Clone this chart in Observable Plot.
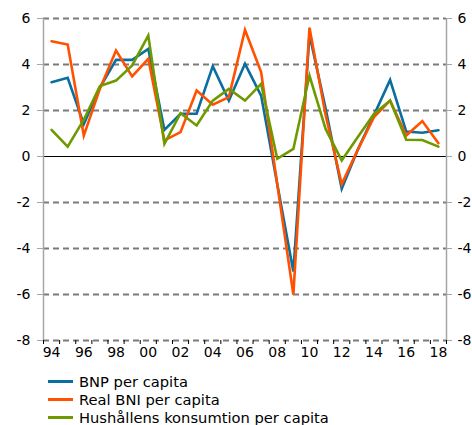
<!DOCTYPE html>
<html>
<head>
<meta charset="utf-8">
<script src="https://cdn.jsdelivr.net/npm/d3@7"></script>
<script src="https://cdn.jsdelivr.net/npm/@observablehq/plot@0.6"></script>
<style>
  html, body { margin: 0; padding: 0; background: #fff; }
  body { width: 472px; height: 425px; overflow: hidden; font-family: "DejaVu Sans", Verdana, sans-serif; }
  #legend { margin-left: 48px; margin-top: 7px; font-size: 14.7px; color: #000; }
  .item { display: flex; align-items: center; height: 18px; }
  .sw { width: 25px; height: 3px; margin-right: 6px; }
</style>
</head>
<body>
<div id="chart"></div>
<div id="legend"></div>
<script>
const years = [1994,1995,1996,1997,1998,1999,2000,2001,2002,2003,2004,2005,2006,2007,2008,2009,2010,2011,2012,2013,2014,2015,2016,2017,2018];
const bnp   = [3.23,3.42,1.4,3.0,4.2,4.2,4.68,1.16,1.86,1.86,3.93,2.43,4.03,2.65,-1.2,-5.0,5.3,2.1,-1.4,0.3,1.8,3.33,1.09,1.03,1.14];
const bni   = [5.01,4.87,0.91,2.95,4.61,3.48,4.25,0.7,1.06,2.87,2.25,2.58,5.5,3.67,-1.2,-6.0,5.6,1.8,-1.2,0.3,1.71,2.43,0.91,1.54,0.58];
const kons  = [1.16,0.43,1.6,3.06,3.3,3.96,5.26,0.55,1.88,1.35,2.43,2.94,2.43,3.16,-0.1,0.33,3.52,1.2,-0.17,0.85,1.85,2.43,0.73,0.72,0.43];
const seriesNames = ["BNP per capita", "Real BNI per capita", "Hushållens konsumtion per capita"];
const colors = ["#0a6e9e", "#ff5100", "#6e9a00"];
const yTicks = [-8,-6,-4,-2,0,2,4,6];
const xLabelYears = [1994,1996,1998,2000,2002,2004,2006,2008,2010,2012,2014,2016,2018];

const rows = [];
[bnp, bni, kons].forEach((arr, s) => arr.forEach((v, i) => rows.push({year: years[i], value: v, series: seriesNames[s]})));
const bounds = years.map(y => y - 0.5).concat([years[years.length - 1] + 0.5]);
const x0 = bounds[0], x1 = bounds[bounds.length - 1];

const chart = Plot.plot({
  width: 472,
  height: 365,
  marginLeft: 43,
  marginRight: 26,
  marginTop: 18,
  marginBottom: 25,
  style: {fontFamily: "DejaVu Sans, Verdana, sans-serif", fontSize: "14px", color: "#000", background: "#fff"},
  x: {domain: [x0, x1]},
  y: {domain: [-8, 6]},
  color: {domain: seriesNames, range: colors},
  marks: [
    Plot.gridY(yTicks.filter(d => d !== 0), {stroke: "#7a7a7a", strokeOpacity: 1, strokeWidth: 2, strokeDasharray: "6,4"}),
    Plot.ruleY([0], {stroke: "#000", strokeWidth: 1}),
    Plot.ruleX([x0, x1], {y1: -8, y2: 6, stroke: "#a6a6a6", strokeWidth: 1.5}),
    Plot.axisY(yTicks, {anchor: "left", tickSize: 6, tickPadding: 7, stroke: "#a6a6a6", label: null, tickFormat: d => String(d)}),
    Plot.axisY(yTicks, {anchor: "right", tickSize: 5, tickPadding: 6, stroke: "#a6a6a6", label: null, tickFormat: d => String(d)}),
    Plot.axisX(bounds, {anchor: "bottom", tickSize: 4, text: null, stroke: "#000", label: null}),
    Plot.axisX(xLabelYears, {anchor: "bottom", tickSize: 0, tickPadding: 7, label: null, tickFormat: d => String(d % 100).padStart(2, "0")}),
    Plot.lineY(rows, {x: "year", y: "value", z: "series", stroke: "series", strokeWidth: 2.6, strokeLinejoin: "miter", strokeMiterlimit: 4})
  ]
});
document.getElementById("chart").appendChild(chart);

const legend = document.getElementById("legend");
seriesNames.forEach((n, i) => {
  const d = document.createElement("div");
  d.className = "item";
  d.innerHTML = `<span class="sw" style="background:${colors[i]}"></span><span>${n}</span>`;
  legend.appendChild(d);
});
</script>
</body>
</html>
